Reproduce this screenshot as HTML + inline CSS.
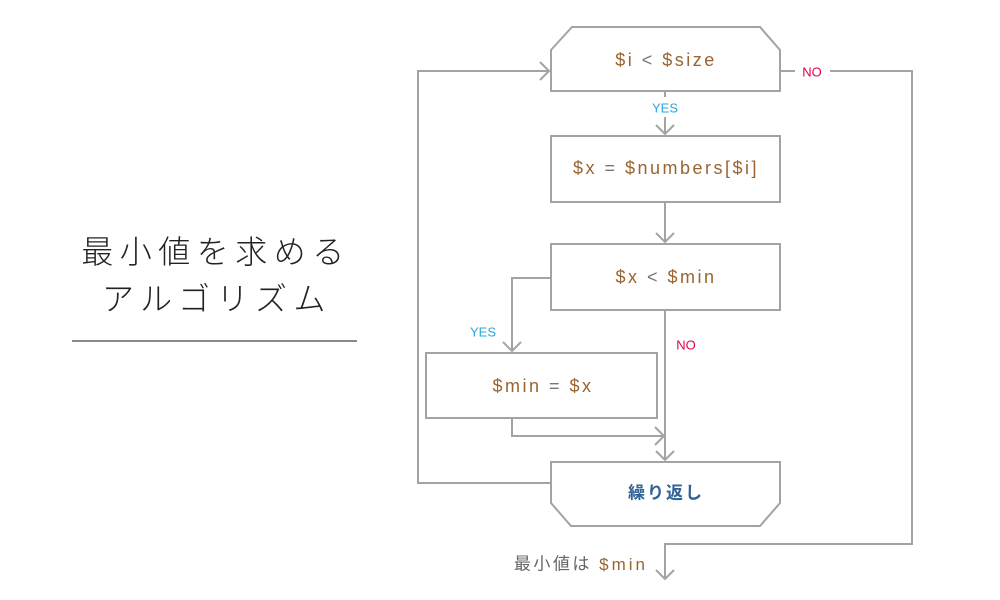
<!DOCTYPE html>
<html><head><meta charset="utf-8"><style>
html,body{margin:0;padding:0;background:#fff;}
svg{display:block;}
.code{font-family:"Liberation Sans","Noto Sans CJK JP",sans-serif;font-size:18px;letter-spacing:2.5px;fill:#9a6430;}
.op{fill:#777;}
</style></head><body>
<svg width="1000" height="600" viewBox="0 0 1000 600" xmlns="http://www.w3.org/2000/svg">
<rect width="1000" height="600" fill="#fff"/>
<!-- title -->
<g font-family="'Liberation Sans','Noto Sans CJK JP',sans-serif" font-size="32" font-weight="300" fill="#222" letter-spacing="6.5">
<text x="216" y="252" text-anchor="middle" dominant-baseline="central">最小値を求める</text>
<text x="217" y="299" text-anchor="middle" dominant-baseline="central">アルゴリズム</text>
</g>
<line x1="72" y1="341" x2="357" y2="341" stroke="#8a8a8a" stroke-width="2"/>

<g fill="none" stroke="#a3a3a3" stroke-width="2">
<polygon points="551,50 572,27 760,27 780,50 780,91 551,91" fill="#fff"/>
<rect x="551" y="136" width="229" height="66" fill="#fff"/>
<rect x="551" y="244" width="229" height="66" fill="#fff"/>
<rect x="426" y="353" width="231" height="65" fill="#fff"/>
<polygon points="551,462 780,462 780,503 760,526 571,526 551,503" fill="#fff"/>

<line x1="665" y1="91" x2="665" y2="97"/>
<line x1="665" y1="117" x2="665" y2="134"/>
<polyline points="656,125 665,134 674,125"/>
<line x1="665" y1="202" x2="665" y2="242"/>
<polyline points="656,233 665,242 674,233"/>
<polyline points="551,278 512,278 512,351"/>
<polyline points="503,342 512,351 521,342"/>
<polyline points="512,418 512,436 664,436"/>
<polyline points="655,427 664,436 655,445"/>
<line x1="665" y1="310" x2="665" y2="460"/>
<polyline points="656,451 665,460 674,451"/>
<polyline points="551,483 418,483 418,71 549,71"/>
<polyline points="540,62 549,71 540,80"/>
<line x1="780" y1="71" x2="795" y2="71"/>
<polyline points="830,71 912,71 912,544 665,544 665,579"/>
<polyline points="656,570 665,579 674,570"/>
</g>

<g font-family="'Liberation Sans',sans-serif" font-size="13">
<text x="665" y="108" text-anchor="middle" dominant-baseline="central" fill="#2aa6de">YES</text>
<text x="483" y="332" text-anchor="middle" dominant-baseline="central" fill="#2aa6de">YES</text>
<text x="812" y="72" text-anchor="middle" dominant-baseline="central" fill="#e0004a">NO</text>
<text x="686" y="345" text-anchor="middle" dominant-baseline="central" fill="#e0004a">NO</text>
</g>

<text class="code" x="666" y="60" text-anchor="middle" dominant-baseline="central">$i <tspan class="op">&lt;</tspan> $size</text>
<text class="code" x="666" y="168" text-anchor="middle" dominant-baseline="central">$x <tspan class="op">=</tspan> $numbers[$i]</text>
<text class="code" x="666" y="277" text-anchor="middle" dominant-baseline="central">$x <tspan class="op">&lt;</tspan> $min</text>
<text class="code" x="543" y="386" text-anchor="middle" dominant-baseline="central">$min <tspan class="op">=</tspan> $x</text>
<text x="666" y="493" text-anchor="middle" dominant-baseline="central" font-family="'Liberation Sans','Noto Sans CJK JP',sans-serif" font-size="17" font-weight="bold" letter-spacing="2" fill="#2f6396">繰り返し</text>

<text x="648" y="564" text-anchor="end" dominant-baseline="central" font-family="'Liberation Sans','Noto Sans CJK JP',sans-serif" font-size="17" letter-spacing="2.5" fill="#666">最小値は <tspan fill="#9a6430" letter-spacing="3">$min</tspan></text>
</svg>
</body></html>
